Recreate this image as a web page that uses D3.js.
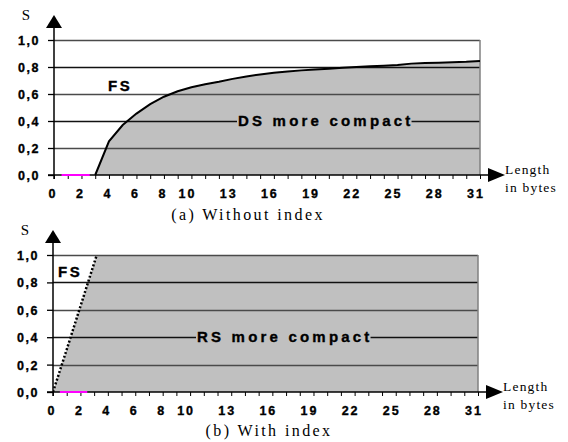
<!DOCTYPE html>
<html><head><meta charset="utf-8">
<script src="https://cdn.jsdelivr.net/npm/d3@7"></script>
<style>body{margin:0;background:#fff}</style>
</head><body>
<svg id="c" width="568" height="442"></svg>
<script>
// ---- data ----
const xTickLabels = [0,2,4,6,8,10,13,16,19,22,25,28,31];
const yTickLabels = [0,0.2,0.4,0.6,0.8,1.0];
const lenA = [3,4,5,6,7,8,9,10,11,12,13,14,15,16,17,18,19,20,21,22,23,24,25,26,27,28,29,30,31];
const sA   = [0,0.25,0.37,0.455,0.525,0.58,0.62,0.65,0.672,0.69,0.712,0.73,0.745,0.758,0.767,0.775,0.782,0.787,0.795,0.80,0.805,0.81,0.815,0.825,0.83,0.832,0.835,0.838,0.845];
const lenB = [0,1,2,3,4];
const sB   = [0,0.31,0.625,0.94,1.25];
const magentaA = [0.55,2.6];
const magentaB = [0.5,2.5];
const panelA = {caption:"(a) Without index", region:"DS more compact", other:"FS"};
const panelB = {caption:"(b) With index", region:"RS more compact", other:"FS"};

const svg = d3.select("#c");
const fill = "#c0c0c0";
const numFont = "'Liberation Sans', Arial, sans-serif";
const serif = "'Liberation Serif', 'Times New Roman', serif";

function boldText(sel){
  return sel.attr("font-family",numFont).attr("font-weight","bold")
    .attr("stroke","#000").attr("stroke-width",0.35).attr("fill","#000");
}

function panel(opt){
  const g = svg.append("g");
  const x = d3.scaleLinear().domain([0,31]).range([opt.x0, opt.x1]);
  const y = d3.scaleLinear().domain([0,1]).range([opt.y0, opt.y1]);
  const clipId = "clip"+opt.id;
  g.append("clipPath").attr("id",clipId).append("rect")
    .attr("x",x(0)).attr("y",y(1)).attr("width",x(31)-x(0)).attr("height",y(0)-y(1));

  if(opt.kind==="a"){
    const area = d3.area().x((d,i)=>x(lenA[i])).y0(y(0)).y1(d=>y(d));
    g.append("path").datum(sA).attr("d",area).attr("fill",fill);
  } else {
    g.append("rect").attr("x",x(0)).attr("y",y(1)).attr("width",x(31)-x(0)).attr("height",y(0)-y(1)).attr("fill",fill);
    const area = d3.area().x((d,i)=>x(lenB[i])).y0(y(1)).y1(d=>y(d));
    g.append("path").datum(sB).attr("d",area).attr("fill","#fff").attr("clip-path",`url(#${clipId})`);
  }
  // gridlines
  g.selectAll(".grid").data(yTickLabels.filter(v=>v>0)).join("line")
    .attr("x1",x(0)).attr("x2",x(31)).attr("y1",d=>Math.round(y(d))+0.5).attr("y2",d=>Math.round(y(d))+0.5)
    .attr("stroke",(d,i)=>i%2? "#111":"#4a4a4a").attr("stroke-width",1.3);
  // right border
  g.append("line").attr("x1",x(31)).attr("x2",x(31)).attr("y1",y(1)).attr("y2",y(0))
    .attr("stroke","#808080").attr("stroke-width",1.5);

  // region label with background
  const rl = boldText(g.append("text")).attr("x",opt.regX).attr("y",opt.regY)
    .attr("font-size",15).attr("letter-spacing","3.2px").text(opt.region);
  const bb = rl.node().getBBox();
  g.insert("rect", () => rl.node()).attr("x",bb.x-1).attr("y",y(0.4)-2).attr("width",bb.width-1).attr("height",4).attr("fill",fill);

  boldText(g.append("text")).attr("x",opt.fsX).attr("y",opt.fsY)
    .attr("font-size",15).attr("letter-spacing","2.5px").text(opt.other);

  // curves
  if(opt.kind==="a"){
    const line = d3.line().x((d,i)=>x(lenA[i])).y(d=>y(d));
    g.append("path").datum(sA).attr("d",line).attr("fill","none").attr("stroke","#000").attr("stroke-width",2);
  } else {
    const line = d3.line().x((d,i)=>x(lenB[i])).y(d=>y(d));
    g.append("path").datum(sB).attr("d",line).attr("fill","none").attr("stroke","#000")
      .attr("stroke-width",2.5).attr("stroke-dasharray","2,2").attr("clip-path",`url(#${clipId})`);
  }

  // x axis
  const xAxis = d3.axisBottom(x).tickValues(d3.range(0,32)).tickSize(4).tickFormat("");
  const xa = g.append("g").attr("transform",`translate(0,${y(0)})`).call(xAxis);
  xa.select(".domain").remove();
  xa.selectAll(".tick line").attr("stroke","#000").attr("stroke-width",1);
  g.append("line").attr("x1",x(0)-6).attr("x2",opt.x1+10).attr("y1",y(0)).attr("y2",y(0)).attr("stroke","#000").attr("stroke-width",1.5);
  g.append("path").attr("d",`M${opt.x1+8},${y(0)-7}L${opt.x1+25},${y(0)}L${opt.x1+8},${y(0)+7}Z`).attr("fill","#000");
  const mag = opt.kind==="a"? magentaA : magentaB;
  g.append("line").attr("x1",x(mag[0])).attr("x2",x(mag[1])).attr("y1",y(0)).attr("y2",y(0))
    .attr("stroke","#ff00ff").attr("stroke-width",2);
  boldText(g.selectAll(".xl").data(xTickLabels).join("text"))
    .attr("x",d=>x(d) - (d>=10? 4:1)).attr("y",y(0)+23).attr("text-anchor","middle")
    .attr("font-size",12.5).attr("letter-spacing","2px").text(d=>d);

  // y axis
  const yAxis = d3.axisLeft(y).tickValues(yTickLabels).tickSize(6).tickFormat("");
  const ya = g.append("g").attr("transform",`translate(${x(0)},0)`).call(yAxis);
  ya.select(".domain").remove();
  ya.selectAll(".tick line").attr("stroke","#000").attr("stroke-width",1.3);
  g.append("line").attr("x1",x(0)).attr("x2",x(0)).attr("y1",y(0)+4).attr("y2",y(1)-14).attr("stroke","#000").attr("stroke-width",1.5);
  g.append("path").attr("d",`M${x(0)-8},${y(1)-12}L${x(0)},${y(1)-25}L${x(0)+8},${y(1)-12}Z`).attr("fill","#000");
  boldText(g.selectAll(".yl").data(yTickLabels).join("text"))
    .attr("x",x(0)-14).attr("y",d=>y(d)+5).attr("text-anchor","end")
    .attr("font-size",12.5).attr("letter-spacing","1.5px").text(d=>d3.format(".1f")(d).replace(".",","));
  g.append("text").attr("x",x(0)-28).attr("y",y(1)-20).attr("text-anchor","middle")
    .attr("font-family",serif).attr("font-size",15).text("S");

  // length label
  const lt = g.append("text").attr("font-family",serif).attr("font-size",13.5).attr("letter-spacing","1.2px");
  lt.append("tspan").attr("x",opt.x1+25).attr("y",y(0)-1).text("Length");
  lt.append("tspan").attr("x",opt.x1+25).attr("y",y(0)+17).text("in bytes");

  // caption
  g.append("text").attr("x",opt.capX).attr("y",opt.capY).attr("text-anchor","middle")
    .attr("font-family",serif).attr("font-size",16).attr("letter-spacing","2.4px").text(opt.caption);
}

panel({id:"a",kind:"a",x0:54,x1:480,y0:175,y1:40,regX:238,regY:126,fsX:108,fsY:91,capX:248,capY:220,region:panelA.region,other:panelA.other,caption:panelA.caption});
panel({id:"b",kind:"b",x0:53,x1:478,y0:392,y1:255,regX:197,regY:342,fsX:58,fsY:277,capX:269,capY:436,region:panelB.region,other:panelB.other,caption:panelB.caption});
</script>
</body></html>
